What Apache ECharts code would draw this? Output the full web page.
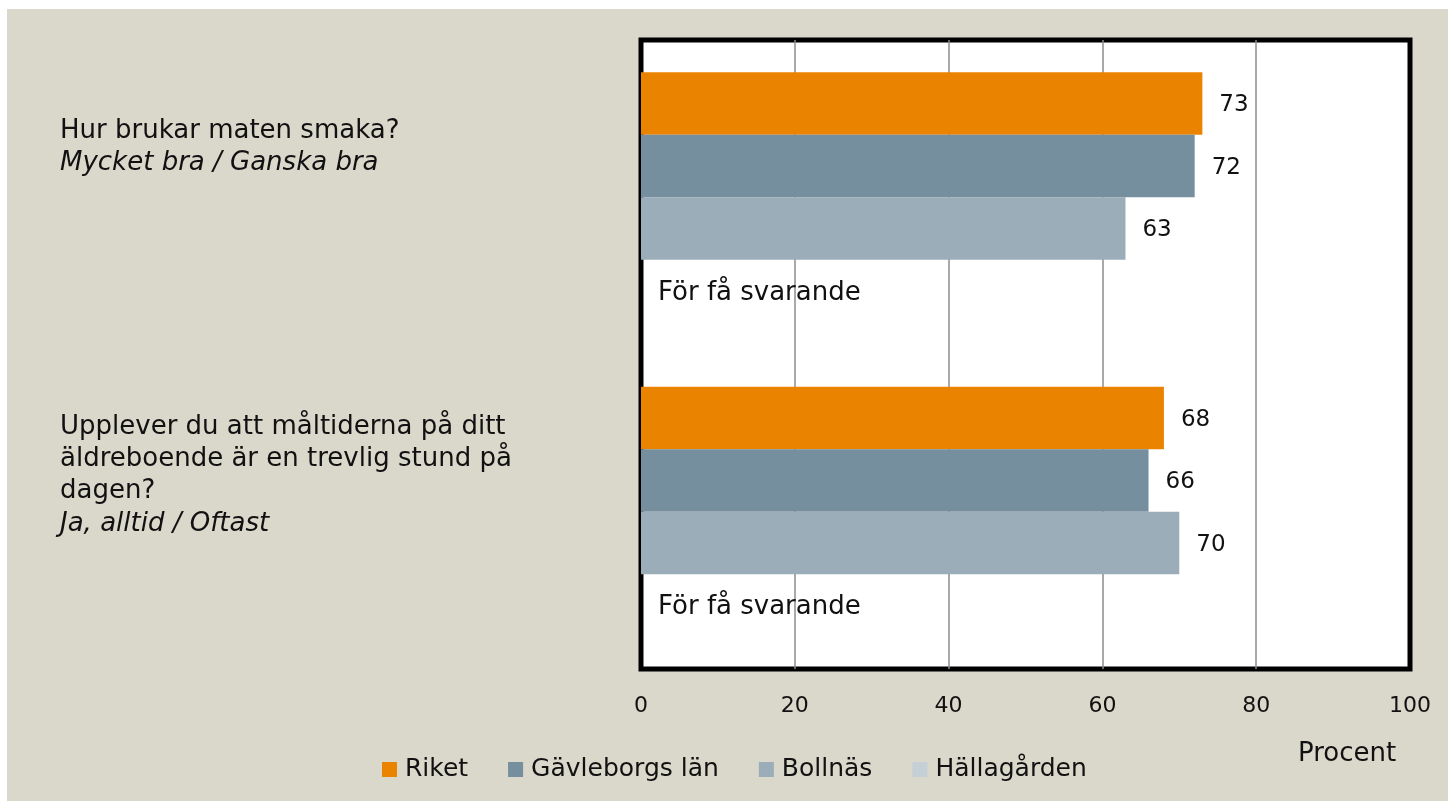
<!DOCTYPE html>
<html>
<head>
<meta charset="utf-8">
<script src="https://cdn.jsdelivr.net/npm/echarts@6/dist/echarts.min.js"></script>
<style>
    html, body { margin: 0; padding: 0; background: #ffffff; }
    #chart { position: absolute; left: 7px; top: 9px; width: 1441px; height: 792px; background: #DAD7CB; }
</style>
</head>
<body>
<div id="chart"></div>
<script>
// Frågor (kategorier) och svarsalternativ
const categories = ['Hur brukar maten smaka?', 'Upplever du att måltiderna på ditt äldreboende är en trevlig stund på dagen?'];
const questionLines = [
    ['Hur brukar maten smaka?'],
    ['Upplever du att måltiderna på ditt', 'äldreboende är en trevlig stund på', 'dagen?']
];
const answerLines = ['Mycket bra / Ganska bra', 'Ja, alltid / Oftast'];

const seriesNames = ['Riket', 'Gävleborgs län', 'Bollnäs', 'Hällagården'];
const riket = [73, 68];
const gavleborg = [72, 66];
const bollnas = [63, 70];
const hallagarden = [0, 0];
const tooFew = [true, true];
const tooFewText = 'För få svarande';

const xTicks = [0, 20, 40, 60, 80, 100];
const axisName = 'Procent';

const colors = ['#E98300', '#758F9E', '#9AADB8', '#C5D0D6'];
const font = 'DejaVu Sans';
const textColor = '#111111';

const chart = echarts.init(document.getElementById('chart'));

// vänstra etiketterna ritas som text
const labelTop = [124, 420];
const lineStep = 32.3;
const graphics = [];
questionLines.forEach((lines, i) => {
    lines.forEach((txt, j) => {
        graphics.push({
            type: 'text', left: 53, top: labelTop[i] + j * lineStep - 15,
            style: { text: txt, font: '26px "' + font + '"', fill: textColor }
        });
    });
    graphics.push({
        type: 'text', left: 53, top: labelTop[i] + lines.length * lineStep - 15,
        style: { text: answerLines[i], font: 'italic 26px "' + font + '"', fill: textColor }
    });
});
graphics.push({
    type: 'text', left: 1291, top: 732,
    style: { text: axisName, font: '26px "' + font + '"', fill: textColor }
});

function makeSeries(name, data, idx) {
    return {
        name: name,
        type: 'bar',
        data: data,
        barGap: '0%',
        barCategoryGap: '20.5%',
        itemStyle: { color: colors[idx] },
        label: {
            show: true,
            position: 'right',
            distance: 17,
            offset: [0, 2],
            fontFamily: font,
            fontSize: idx === 3 ? 26 : 23,
            color: textColor,
            formatter: function (p) {
                if (idx === 3) return tooFew[p.dataIndex] ? tooFewText : p.value;
                return p.value;
            }
        }
    };
}

const option = {
    animation: false,
    textStyle: { fontFamily: font },
    grid: {
        left: 634, right: 38, top: 31, bottom: 132,
        show: true, backgroundColor: '#ffffff', borderColor: '#000000', borderWidth: 5
    },
    legend: {
        data: seriesNames,
        left: 370, top: 743,
        icon: 'rect', itemWidth: 15, itemHeight: 15, itemGap: 40,
        textStyle: { fontFamily: font, fontSize: 25, color: textColor, padding: [0, 0, 0, 3] }
    },
    xAxis: {
        type: 'value', min: xTicks[0], max: xTicks[xTicks.length - 1], interval: 20,
        axisLine: { show: false },
        axisTick: { show: false },
        axisLabel: { fontFamily: font, fontSize: 22, color: textColor, margin: 26 },
        splitLine: { show: true, showMinLine: false, showMaxLine: false, lineStyle: { color: '#8c8c8c', width: 1.5 } }
    },
    yAxis: {
        type: 'category', data: categories, inverse: true,
        axisLine: { show: false }, axisTick: { show: false }, axisLabel: { show: false }
    },
    graphic: graphics,
    series: [
        makeSeries(seriesNames[0], riket, 0),
        makeSeries(seriesNames[1], gavleborg, 1),
        makeSeries(seriesNames[2], bollnas, 2),
        makeSeries(seriesNames[3], hallagarden, 3)
    ]
};
chart.setOption(option);
</script>
</body>
</html>
